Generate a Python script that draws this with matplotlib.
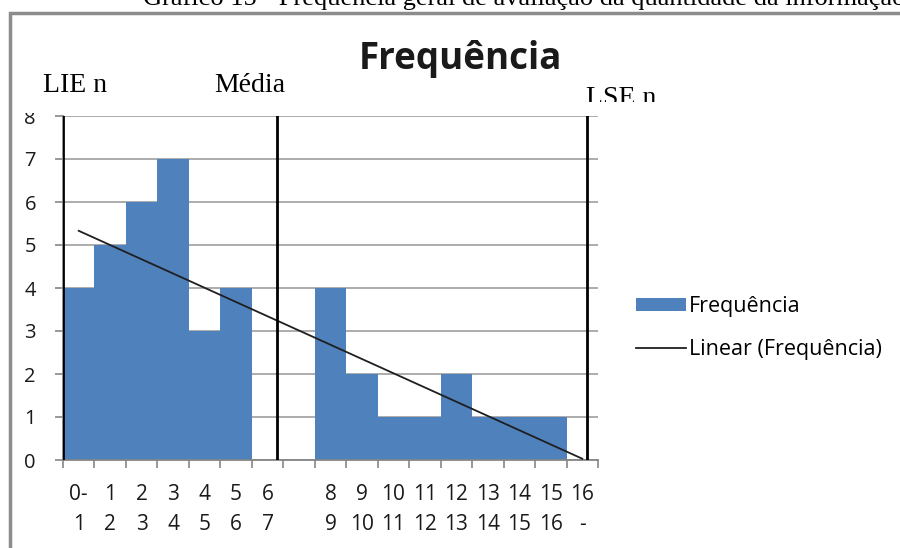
import matplotlib
matplotlib.use("Agg")
import matplotlib.pyplot as plt
from matplotlib.patches import Rectangle, Patch
from matplotlib.lines import Line2D

# ---------------- data ----------------
labels_top = ["0-", "1", "2", "3", "4", "5", "6", "", "8", "9", "10", "11", "12", "13", "14", "15", "16"]
labels_bottom = ["1", "2", "3", "4", "5", "6", "7", "", "9", "10", "11", "12", "13", "14", "15", "16", "-"]
frequencia = [4, 5, 6, 7, 3, 4, 0, 0, 4, 2, 1, 1, 2, 1, 1, 1, 0]
trend_values = [5.33, 0.03]          # linear trendline at first and last category
marker_names = ["LIE n", "Média", "LSE n"]
marker_positions = [-0.5, 6.3, 16.15]
y_ticks = [0, 1, 2, 3, 4, 5, 6, 7, 8]

title = "Frequência"
caption = "Gráfico 15 - Frequência geral de avaliação da quantidade da informação"
legend_labels = ["Frequência", "Linear (Frequência)"]

# ---------------- layout helpers ----------------
W, H = 900, 548
fig = plt.figure(figsize=(9, 5.48), dpi=100)
fig.patch.set_facecolor("white")


def fx(px):
    return px / W


def fy(py):
    return 1 - py / H


SANS = ["Open Sans", "DejaVu Sans"]
SERIF = ["Liberation Serif", "DejaVu Serif"]
BLUE = "#4F81BD"
GRAY_AX = "#868686"
GRAY_GRID = "#A6A6A6"
TXT = "#1a1a1a"

# outer chart frame
fig.patches.append(Rectangle((fx(10), -0.2), 1.5, fy(13) + 0.2, transform=fig.transFigure,
                             fill=False, edgecolor="#8C8C8C", lw=2.5, zorder=0))

ax = fig.add_axes([fx(63), fy(460), fx(598) - fx(63), fy(116) - fy(460)])
n = len(frequencia)
xs = list(range(n))
ax.bar(xs, frequencia, width=1.0, color=BLUE, edgecolor="none", zorder=2)
ax.plot([xs[0], xs[-1]], trend_values, color="#1F1F1F", lw=1.3, zorder=3)
for p in marker_positions:
    ax.axvline(p, color="black", lw=2.0, zorder=4)

ax.set_xlim(-0.5, n - 0.5)
ax.set_ylim(0, 8)
ax.set_yticks(y_ticks)
ax.set_yticklabels([str(v) for v in y_ticks], family=SANS, fontsize=14.5, color=TXT)
ax.yaxis.grid(True, color=GRAY_GRID, lw=1.3)
ax.set_axisbelow(True)

ax.set_xticks([i - 0.5 for i in range(n + 1)])
ax.set_xticklabels([])
ax.set_xticks(xs, minor=True)
ax.set_xticklabels([t + "\n" + b for t, b in zip(labels_top, labels_bottom)], minor=True,
                   family=SANS, fontsize=15, color=TXT, linespacing=1.6)
ax.tick_params(axis="x", which="major", direction="out", length=5.5, width=1.2, color=GRAY_AX)
ax.tick_params(axis="x", which="minor", length=0, pad=17)
ax.tick_params(axis="y", direction="out", length=5.5, width=1.2, color=GRAY_AX, pad=14)

for s in ["top", "right"]:
    ax.spines[s].set_visible(False)
for s in ["left", "bottom"]:
    ax.spines[s].set_color(GRAY_AX)
    ax.spines[s].set_linewidth(1.3)

# legend
handles = [Patch(facecolor=BLUE, edgecolor="none"),
           Line2D([0], [0], color="#1F1F1F", lw=1.3)]
ax.legend(handles, legend_labels, loc="center left", bbox_to_anchor=(fx(636), fy(328)),
          bbox_transform=fig.transFigure, frameon=False, prop={"family": SANS, "size": 15.5},
          handlelength=2.3, handleheight=0.55, handletextpad=0.15, labelspacing=1.0,
          borderaxespad=0, borderpad=0)

# title and caption
fig.text(fx(460), fy(69), title, family=SANS, fontweight="bold", fontsize=26.5,
         ha="center", va="baseline", color=TXT)
fig.text(fx(143), fy(5), caption, family=SERIF, fontsize=19, ha="left", va="baseline", color="black")

# white box of the LIE text covering the top of the "8" label
fig.patches.append(Rectangle((fx(20), fy(113)), fx(100), fy(60) - fy(113), transform=fig.transFigure,
                             facecolor="white", edgecolor="none", zorder=5))

text_x = [43, 214, 586]
text_y = [92, 92, 105]
for name, tx, ty in zip(marker_names, text_x, text_y):
    t = fig.text(fx(tx), fy(ty), name, family=SERIF, fontsize=20, ha="left", va="baseline",
                 color="black", zorder=6)
    if name == "LSE n":
        clip = Rectangle((fx(560), fy(102)), fx(120), fy(70) - fy(102), transform=fig.transFigure)
        t.set_clip_path(clip)

fig.savefig("out.png", dpi=100)
